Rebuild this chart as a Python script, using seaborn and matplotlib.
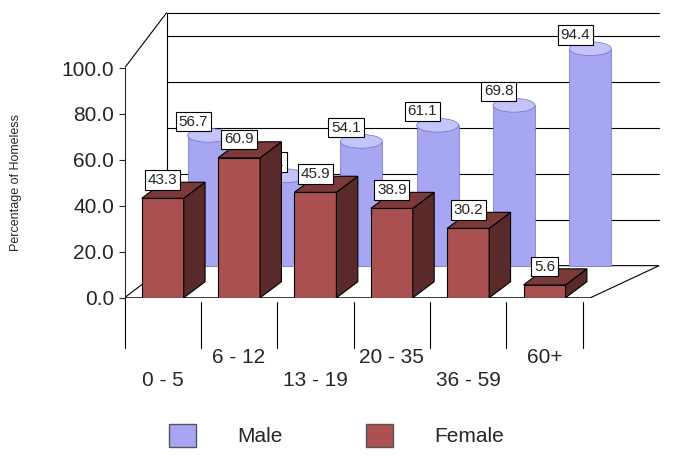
import matplotlib
matplotlib.use("Agg")
import matplotlib.pyplot as plt
import seaborn as sns
import pandas as pd
import numpy as np
from matplotlib.patches import Polygon, Ellipse, Patch

categories = ["0 - 5", "6 - 12", "13 - 19", "20 - 35", "36 - 59", "60+"]
male = [56.7, 39.1, 54.1, 61.1, 69.8, 94.4]
female = [43.3, 60.9, 45.9, 38.9, 30.2, 5.6]

sns.set_style("white")
plt.rcParams['font.family'] = ['Liberation Sans', 'DejaVu Sans']

fig = plt.figure(figsize=(6.73, 4.61), dpi=100)
ax = fig.add_axes([0.185, 0.354, 0.80, 0.623])

mcol, mdark = "#a6a6f2", "#7070c8"
fcol, fside = "#aa5050", "#5a2a2a"
dx, dy = 0.55, 14
n = len(categories)
x = np.arange(n)
w = 0.55
xr = n - 0.5 + dx + 0.45

for v in range(20, 101, 20):
    ax.plot([-0.5 + dx, xr], [v + dy, v + dy], color="black", lw=0.8, zorder=0)
ax.plot([-0.5 + dx, xr], [100 + dy + 10, 100 + dy + 10], color="black", lw=0.8, zorder=0)
ax.add_patch(Polygon([(-0.5, 0), (n - 0.5 + 0.1, 0), (xr, dy), (-0.5 + dx, dy)],
                     closed=True, fc="white", ec="black", lw=0.8, zorder=0))
ax.plot([-0.5, -0.5 + dx], [100, 110 + dy], color="black", lw=0.8, zorder=0)
ax.plot([-0.5 + dx, -0.5 + dx], [dy, 110 + dy], color="black", lw=0.8, zorder=0)

for i, v in enumerate(male):
    cx = x[i] + dx + 0.05
    ax.bar(cx, v, bottom=dy, width=w, color=mcol, edgecolor=mdark, lw=0.5, zorder=2)
    ax.add_patch(Ellipse((cx, dy + v), w, 6, fc="#c4c4fa", ec=mdark, lw=0.5, zorder=3))
    ax.text(cx - 0.2, dy + v + 6, f"{v:.1f}", ha="center", va="center", fontsize=11,
            bbox=dict(fc="white", ec="black", lw=0.8, pad=2), zorder=4)

df = pd.DataFrame({"Age": categories, "Female": female})
sns.barplot(data=df, x="Age", y="Female", color=fcol, width=w, saturation=1,
            edgecolor="black", linewidth=0.8, ax=ax, zorder=5)
for i, v in enumerate(female):
    l, r = x[i] - w / 2, x[i] + w / 2
    ax.add_patch(Polygon([(r, 0), (r + 0.28, 7), (r + 0.28, v + 7), (r, v)], closed=True,
                         fc=fside, ec="black", lw=0.8, zorder=5))
    ax.add_patch(Polygon([(l, v), (r, v), (r + 0.28, v + 7), (l + 0.28, v + 7)], closed=True,
                         fc="#7a3a3a", ec="black", lw=0.8, zorder=5))
    ax.text(x[i], v + 8, f"{v:.1f}", ha="center", va="center", fontsize=11,
            bbox=dict(fc="white", ec="black", lw=0.8, pad=2), zorder=6)

ax.set_xlim(-0.5, xr + 0.05)
ax.set_ylim(0, 125)
ax.set_yticks(range(0, 101, 20))
ax.set_yticklabels([f"{v:.1f}" for v in range(0, 101, 20)], fontsize=15)
ax.set_ylabel("Percentage of Homeless", fontsize=9)
ax.yaxis.set_label_coords(-0.19, 0.4)
ax.set_xlabel("")
ax.set_xticks([])
for s in ["top", "right", "bottom"]:
    ax.spines[s].set_visible(False)
ax.spines["left"].set_bounds(0, 100)
ax.tick_params(axis="y", left=True, length=4)

for i, c in enumerate(categories):
    ax.plot([i + 0.5, i + 0.5], [-2, -22], color="black", lw=0.8, clip_on=False)
    ax.text(i, -22 if i % 2 else -32, c, ha="center", va="top", fontsize=15, clip_on=False)
ax.plot([-0.5, -0.5], [0, -22], color="black", lw=0.8, clip_on=False)

handles = [Patch(fc=mcol, ec="#555555"), Patch(fc=fcol, ec="#555555")]
fig.legend(handles, ["Male", "Female"], loc="lower center", ncol=2, frameon=False,
           fontsize=15, handlelength=1.3, handleheight=1.3, columnspacing=4, handletextpad=2,
           bbox_to_anchor=(0.5, -0.01))

fig.savefig("out.png", dpi=100)
